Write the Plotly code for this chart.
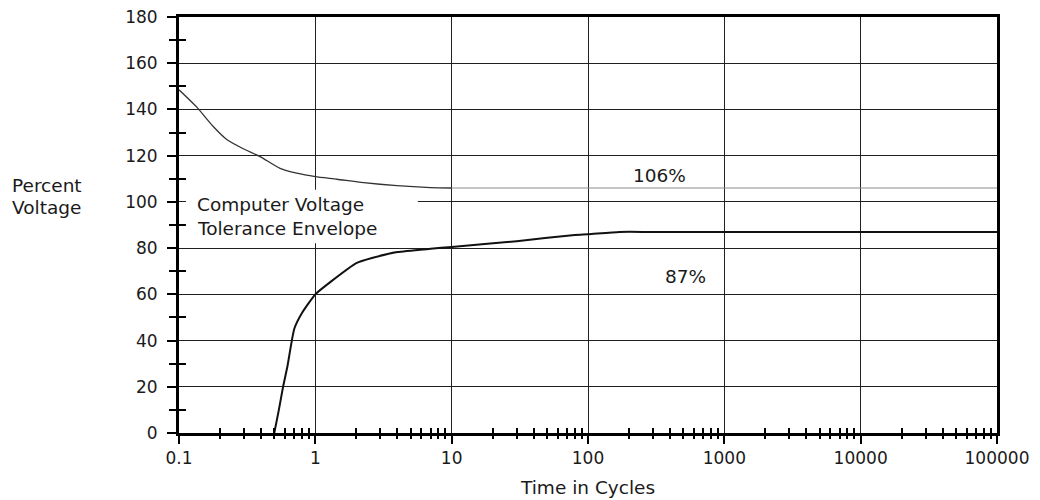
import plotly.graph_objects as go

# Upper limit of the computer voltage tolerance envelope (transient part)
upper_cycles = [0.1, 0.135, 0.179, 0.224, 0.296, 0.393, 0.551, 0.73, 1.0, 1.44, 2.26, 3.97, 7.0, 10]
upper_pct = [148.5, 141, 132.5, 127, 123, 119.6, 114.5, 112.4, 110.9, 109.8, 108.3, 107, 106.2, 106]

# Steady-state upper limit (106%)
steady_high_cycles = [10, 100000]
steady_high_pct = [106, 106]

# Lower limit of the envelope, settling at 87%
lower_cycles = [0.5, 0.54, 0.58, 0.625, 0.7, 0.8, 1.0, 1.3, 2.0, 2.6, 4.0, 7.0, 10, 30, 80, 100, 170, 300, 100000]
lower_pct = [0, 10, 20, 29, 45, 52, 60, 65.5, 73.5, 75.7, 78.3, 79.7, 80.5, 83, 85.7, 86, 87, 87, 87]

# Axis ticks
x_tick_vals = [0.1, 1, 10, 100, 1000, 10000, 100000]
x_tick_text = ["0.1", "1", "10", "100", "1000", "10000", "100000"]
x_minor_vals = [m * d for d in [0.1, 1, 10, 100, 1000, 10000] for m in range(2, 10)]
y_tick_vals = [0, 20, 40, 60, 80, 100, 120, 140, 160, 180]
y_minor_vals = [10, 30, 50, 70, 90, 110, 130, 150, 170]

FONT = "DejaVu Sans"
INK = "#1a1a1a"
GRID = "#1f1f1f"

fig = go.Figure()

fig.add_trace(go.Scatter(
    x=upper_cycles, y=upper_pct, mode="lines", line_shape="spline",
    line=dict(color="#333333", width=1.3, smoothing=0.6), hoverinfo="skip", showlegend=False,
))
fig.add_trace(go.Scatter(
    x=lower_cycles, y=lower_pct, mode="lines", line_shape="spline",
    line=dict(color="#111111", width=2, smoothing=0.5), hoverinfo="skip", showlegend=False,
))
fig.add_trace(go.Scatter(
    x=steady_high_cycles, y=steady_high_pct, mode="lines", xaxis="x2", yaxis="y2",
    line=dict(color="#8c8c8c", width=1.2), hoverinfo="skip", showlegend=False,
))

tick_common = dict(tickcolor="black", tickwidth=1.5)

fig.update_layout(
    width=1040, height=500,
    margin=dict(l=179, r=43, t=17, b=67),
    paper_bgcolor="white", plot_bgcolor="white",
    font=dict(family=FONT, color=INK, size=17),
    xaxis=dict(
        type="log", range=[-1, 5], automargin=False,
        tickmode="array", tickvals=x_tick_vals, ticktext=x_tick_text,
        ticks="outside", ticklen=8, **tick_common,
        tickfont=dict(family=FONT, size=17, color=INK),
        ticklabelstandoff=0,
        showgrid=True, gridcolor=GRID, gridwidth=1.3,
        showline=True, linecolor="black", linewidth=3, mirror=True,
        zeroline=False,
        minor=dict(tickmode="array", tickvals=x_minor_vals, ticks="inside",
                   ticklen=5, tickcolor="black", tickwidth=1.5, showgrid=False),
    ),
    xaxis2=dict(
        type="log", range=[-1, 5], overlaying="x", anchor="y2", automargin=False,
        tickmode="array", tickvals=x_minor_vals, ticks="outside", ticklen=5,
        **tick_common, showticklabels=False, showgrid=False,
        showline=False, zeroline=False,
    ),
    yaxis=dict(
        range=[0, 180], automargin=False,
        tickmode="array", tickvals=y_tick_vals,
        ticks="outside", ticklen=9, **tick_common,
        tickfont=dict(family=FONT, size=17, color=INK),
        ticklabelstandoff=6,
        showgrid=True, gridcolor=GRID, gridwidth=1.3,
        showline=True, linecolor="black", linewidth=3, mirror=True,
        zeroline=False,
        minor=dict(tickmode="array", tickvals=y_minor_vals, ticks="outside",
                   ticklen=7, tickcolor="black", tickwidth=1.5, showgrid=False),
    ),
    yaxis2=dict(
        range=[0, 180], overlaying="y", anchor="x2", automargin=False,
        tickmode="array", tickvals=y_minor_vals, ticks="inside", ticklen=7,
        **tick_common, showticklabels=False, showgrid=False,
        showline=False, zeroline=False,
    ),
)

# White panel behind the envelope caption, covering the grid
fig.add_shape(
    type="rect", xref="paper", yref="paper",
    x0=0.0085, x1=0.292, y0=0.456, y1=0.585,
    fillcolor="white", line=dict(width=0), layer="above",
)

def note(text, x, y, size=18.5, xanchor="left", xref="paper", yref="paper"):
    fig.add_annotation(
        text=text, x=x, y=y, xref=xref, yref=yref,
        xanchor=xanchor, yanchor="middle", showarrow=False,
        font=dict(family=FONT, size=size, color=INK),
    )

note("Computer Voltage", 0.0196, 99.0, yref="y")
note("Tolerance Envelope", 0.0196, 88.6, yref="y")
note("106%", 0.588, 111.6, xanchor="center", yref="y")
note("87%", 0.6186, 67.9, xanchor="center", yref="y")
note("Percent", -0.207, 0.594)
note("Voltage", -0.207, 0.543)
note("Time in Cycles", 0.499, -0.13, xanchor="center")

fig.write_html("out.html")
